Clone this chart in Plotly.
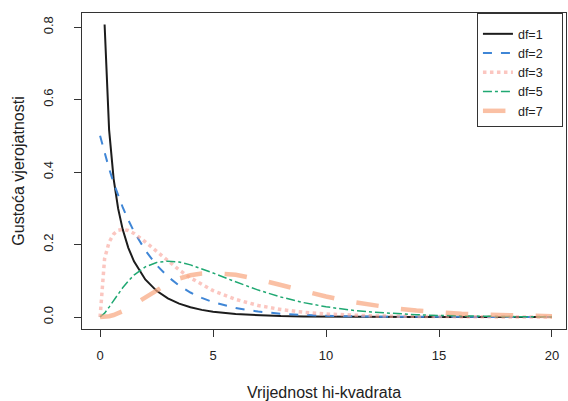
import plotly.graph_objects as go

x_vals = [0, 0.2, 0.4, 0.6, 0.8, 1.0, 1.25, 1.5, 2, 2.5, 3, 3.5, 4, 4.5, 5,
          6, 7, 8, 9, 10, 11, 12, 13, 14, 15, 16, 17, 18, 19, 20]

df1 = [None, 0.8072, 0.5164, 0.3815, 0.2990, 0.2420, 0.1910, 0.1539, 0.1038, 0.0723,
       0.0514, 0.0371, 0.0270, 0.0198, 0.0146, 0.0081, 0.0046, 0.0026, 0.0015, 0.00085,
       0.00049, 0.00029, 0.00017, 0.0001, 0.00006, 0.00003, 0.00002, 0.00001, 0.00001, 0.0]
df2 = [0.5, 0.4524, 0.4094, 0.3704, 0.3352, 0.3033, 0.2676, 0.2362, 0.1839, 0.1433,
       0.1116, 0.0869, 0.0677, 0.0527, 0.0410, 0.0249, 0.0151, 0.0092, 0.0056, 0.0034,
       0.0020, 0.0012, 0.00075, 0.00046, 0.00028, 0.00017, 0.0001, 0.00006, 0.00004, 0.00002]
df3 = [0, 0.1614, 0.2066, 0.2289, 0.2392, 0.2420, 0.2388, 0.2309, 0.2076, 0.1807,
       0.1542, 0.1299, 0.1080, 0.0891, 0.0730, 0.0486, 0.0319, 0.0207, 0.0133, 0.0085,
       0.0054, 0.0034, 0.0022, 0.0014, 0.00085, 0.00053, 0.00033, 0.00021, 0.00013, 0.00008]
df5 = [0, 0.0108, 0.0275, 0.0458, 0.0638, 0.0807, 0.0995, 0.1155, 0.1384, 0.1506,
       0.1542, 0.1516, 0.1440, 0.1337, 0.1217, 0.0972, 0.0744, 0.0552, 0.0399, 0.0283,
       0.0198, 0.0137, 0.0094, 0.0064, 0.0043, 0.0029, 0.0019, 0.0013, 0.0008, 0.0005]
df7 = [0, 0.0004, 0.0022, 0.0055, 0.0102, 0.0161, 0.0249, 0.0347, 0.0554, 0.0753,
       0.0925, 0.1061, 0.1152, 0.1203, 0.1217, 0.1166, 0.1042, 0.0883, 0.0718, 0.0566,
       0.0436, 0.0329, 0.0244, 0.0178, 0.0128, 0.0091, 0.0064, 0.0045, 0.0031, 0.0022]

series_names = ["df=1", "df=2", "df=3", "df=5", "df=7"]
x_ticks = [0, 5, 10, 15, 20]
y_ticks = [0.0, 0.2, 0.4, 0.6, 0.8]
y_tick_labels = ["0.0", "0.2", "0.4", "0.6", "0.8"]

styles = [
    dict(color="#1c1c1c", width=2, dash="solid"),
    dict(color="#3f86d6", width=2, dash="dash"),
    dict(color="rgba(248,160,150,0.6)", width=3.5, dash="dot"),
    dict(color="#1fa872", width=1.5, dash="dashdot"),
    dict(color="rgba(248,165,125,0.7)", width=4.5, dash="longdash"),
]

PAD = "\u00a0" * 4  # invisible padding to widen the legend box like the original

fig = go.Figure()
for name, ys, st in zip(series_names, [df1, df2, df3, df5, df7], styles):
    fig.add_trace(go.Scatter(x=x_vals, y=ys, mode="lines", name=name + PAD, line=st))

fam = "Liberation Sans, Arial, sans-serif"
fig.update_layout(
    width=568, height=401,
    margin=dict(l=82, r=2, t=13, b=72, autoexpand=False),
    plot_bgcolor="white", paper_bgcolor="white",
    font=dict(family=fam, size=13, color="#222"),
    showlegend=True,
    legend=dict(x=0.816, y=1, xanchor="left", yanchor="top",
                bordercolor="#333", borderwidth=1, bgcolor="white",
                font=dict(family=fam, size=12.5, color="#222"),
                title=dict(text="\u00a0", font=dict(size=4)),
                itemwidth=30, tracegroupgap=0),
    xaxis=dict(range=[-0.8, 20.62], tickvals=x_ticks, ticks="outside", ticklen=7,
               showgrid=False, zeroline=False, showline=True, mirror=True,
               linecolor="#333", tickcolor="#333", automargin=False,
               ticklabelstandoff=7,
               title=dict(text="Vrijednost hi-kvadrata", standoff=35)),
    yaxis=dict(range=[-0.033, 0.839], tickvals=y_ticks, ticktext=y_tick_labels,
               ticks="outside", ticklen=7, tickangle=-90, automargin=False,
               showgrid=False, zeroline=False, showline=True, mirror=True,
               linecolor="#333", tickcolor="#333",
               ticklabelstandoff=16,
               title=dict(text="Gustoća vjerojatnosti", standoff=12)),
)
fig.write_html("out.html", config={"displayModeBar": False},
               post_script="document.body.style.margin='0px';")
